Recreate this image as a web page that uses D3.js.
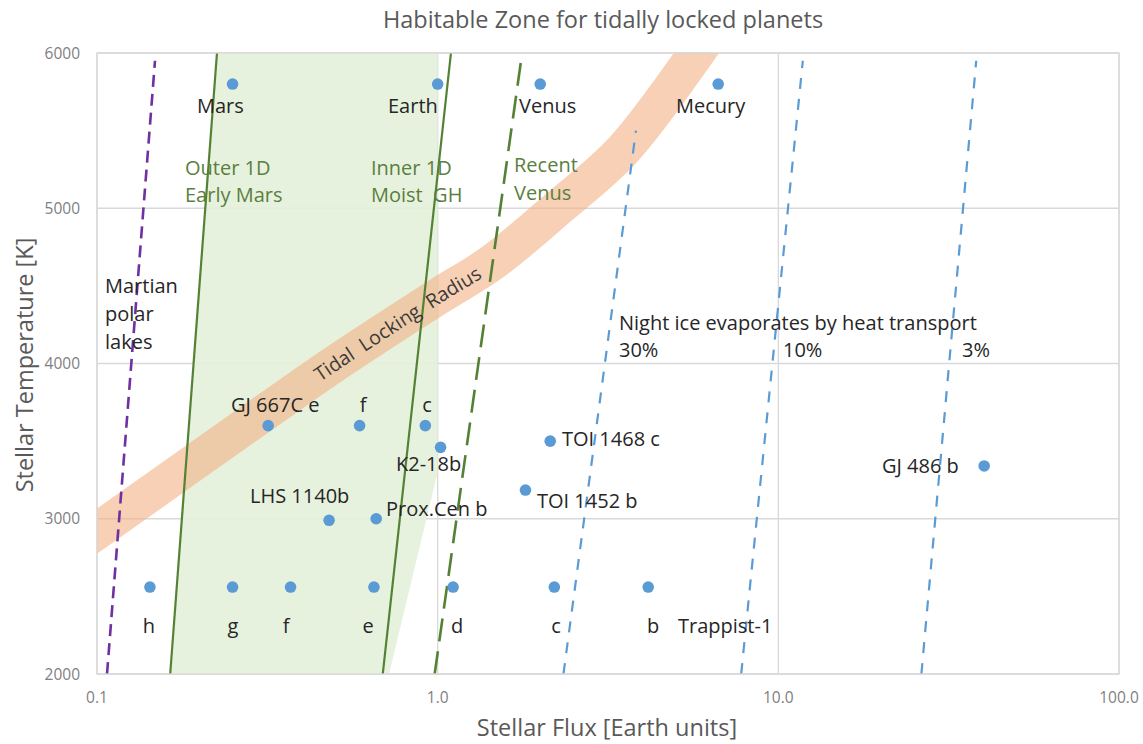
<!DOCTYPE html>
<html><head><meta charset="utf-8">
<script src="https://cdn.jsdelivr.net/npm/d3@7"></script>
<style>
body{margin:0;background:#fff;}
svg{display:block;font-family:"Open Sans",Lato,sans-serif;}
</style></head>
<body><svg id="c" width="1143" height="744"></svg>
<script>
// ---------- data ----------
const xTicks = [0.1, 1, 10, 100];
const xTickLabels = ["0.1", "1.0", "10.0", "100.0"];
const yTicks = [2000, 3000, 4000, 5000, 6000];

const solarPlanets = [
  {name:"Mars", flux:0.25, temp:5800},
  {name:"Earth", flux:1.0, temp:5800},
  {name:"Venus", flux:2.0, temp:5800},
  {name:"Mecury", flux:6.66, temp:5800}
];
const exoPlanets = [
  {name:"GJ 667C e", flux:0.318, temp:3600},
  {name:"GJ 667C f", flux:0.59, temp:3600},
  {name:"GJ 667C c", flux:0.92, temp:3600},
  {name:"K2-18b", flux:1.02, temp:3460},
  {name:"TOI 1468 c", flux:2.14, temp:3500},
  {name:"TOI 1452 b", flux:1.81, temp:3185},
  {name:"GJ 486 b", flux:40.2, temp:3340},
  {name:"LHS 1140b", flux:0.48, temp:2990},
  {name:"Prox.Cen b", flux:0.66, temp:3000}
];
const trappist = [
  {name:"h", flux:0.143, temp:2560},
  {name:"g", flux:0.25, temp:2560},
  {name:"f", flux:0.37, temp:2560},
  {name:"e", flux:0.65, temp:2560},
  {name:"d", flux:1.11, temp:2560},
  {name:"c", flux:2.20, temp:2560},
  {name:"b", flux:4.15, temp:2560}
];

const martianLine = [[0.107,2000],[0.148,5950]];
const outerLine   = [[0.164,2000],[0.225,6000]];
const innerLine   = [[0.69,2000],[1.094,6000]];
const venusLine   = [[0.98,2000],[1.77,6000]];
const ice30Line   = [[2.34,2000],[3.82,5500]];
const ice10Line   = [[7.78,2000],[11.8,5950]];
const ice3Line    = [[26.3,2000],[38.1,5950]];
const hzShade     = [[0.164,2000],[0.225,6000],[1.0,6000],[1.0,3300],[0.72,2000]];
const tidalBand   = [[0.07,2680],[0.1,2920],[0.318,3700],[0.5,4000],[1.0,4430],[1.445,4650],[2.25,5000],[3.5,5375],[5.75,6000],[7.0,6280]];

// ---------- layout ----------
const svg = d3.select("#c");
const L = 97, R = 1119, T = 53, B = 674;
const x = d3.scaleLog().domain([0.1,100]).range([L,R]);
const y = d3.scaleLinear().domain([2000,6000]).range([B,T]);

const defs = svg.append("defs");
defs.append("clipPath").attr("id","clip").append("rect")
  .attr("x",L).attr("y",T).attr("width",R-L).attr("height",B-T);

// title
svg.append("text").attr("x",603).attr("y",28).attr("text-anchor","middle")
  .attr("font-size",23.5).attr("fill","#595959").text("Habitable Zone for tidally locked planets");

// gridlines
const grid = svg.append("g");
grid.selectAll("line.h").data(yTicks).join("line")
  .attr("x1",L).attr("x2",R).attr("y1",d=>y(d)).attr("y2",d=>y(d))
  .attr("stroke","#d9d9d9").attr("stroke-width",1.3);
grid.selectAll("line.v").data(xTicks).join("line")
  .attr("y1",T).attr("y2",B).attr("x1",d=>x(d)).attr("x2",d=>x(d))
  .attr("stroke","#d9d9d9").attr("stroke-width",1.3);

const plot = svg.append("g").attr("clip-path","url(#clip)");
const line = d3.line().x(d=>x(d[0])).y(d=>y(d[1]));

// HZ shade
plot.append("path").attr("d", line(hzShade)+"Z").attr("fill","#e4f1da").attr("opacity",0.9);

// tidal band
const bandLine = d3.line().x(d=>x(d[0])).y(d=>y(d[1])).curve(d3.curveCatmullRom.alpha(0.5));
const bandPath = plot.append("path").attr("id","band").attr("d", bandLine(tidalBand))
  .attr("fill","none").attr("stroke","#f4b183").attr("stroke-opacity",0.6).attr("stroke-width",37);

// lines
function drawLine(data, color, width, dash){
  plot.append("path").attr("d", line(data)).attr("fill","none")
    .attr("stroke",color).attr("stroke-width",width).attr("stroke-dasharray",dash||null);
}
drawLine(martianLine, "#7030a0", 2.6, "12,7");
drawLine(outerLine, "#548235", 2.2);
drawLine(innerLine, "#548235", 2.2);
drawLine(venusLine, "#548235", 2.6, "23,10");
drawLine(ice30Line, "#5b9bd5", 2.2, "11,10");
drawLine(ice10Line, "#5b9bd5", 2.2, "11,10");
drawLine(ice3Line, "#5b9bd5", 2.2, "11,10");

// band text
const bp = bandPath.node();
const tl = bp.getTotalLength();
let best = 0, bd = 1e9;
for(let s=0;s<=tl;s+=1){ const p = bp.getPointAtLength(s); const dd=Math.abs(p.x-397); if(dd<bd){bd=dd;best=s;} }
svg.append("text").attr("font-size",19.5).attr("fill","#3a3a3a").attr("dy",7)
  .append("textPath").attr("href","#band").attr("startOffset",best).attr("text-anchor","middle")
  .attr("xml:space","preserve").text("Tidal  Locking  Radius");

// plot border
svg.append("rect").attr("x",L).attr("y",T).attr("width",R-L).attr("height",B-T)
  .attr("fill","none").attr("stroke","#d9d9d9").attr("stroke-width",1.3);

// points
const allPts = solarPlanets.concat(exoPlanets, trappist);
svg.append("g").selectAll("circle").data(allPts).join("circle")
  .attr("cx",d=>x(d.flux)).attr("cy",d=>y(d.temp)).attr("r",5.8).attr("fill","#5b9bd5");

// axes tick labels
svg.append("g").selectAll("text").data(yTicks).join("text")
  .attr("x",80).attr("y",d=>y(d)+5.5).attr("text-anchor","end")
  .attr("font-size",15.5).attr("fill","#7f7f7f").text(d=>d);
svg.append("g").selectAll("text").data(xTicks).join("text")
  .attr("x",d=>x(d)).attr("y",703).attr("text-anchor","middle")
  .attr("font-size",15.5).attr("fill","#7f7f7f").text((d,i)=>xTickLabels[i]);

// axis titles
svg.append("text").attr("x",607).attr("y",736).attr("text-anchor","middle")
  .attr("font-size",23.5).attr("fill","#595959").text("Stellar Flux [Earth units]");
svg.append("text").attr("transform","translate(33,365) rotate(-90)").attr("text-anchor","middle")
  .attr("font-size",23.5).attr("fill","#595959").text("Stellar Temperature [K]");

// labels  [text, x, y, color, anchor]
const DK = "#262626", GR = "#5a7f3e";
const labels = [
  ["Mars",197,113,DK],["Earth",388,113,DK],["Venus",519,113,DK],["Mecury",676,113,DK],
  ["Outer 1D",185,175,GR],["Early Mars",185,202,GR],
  ["Inner 1D",371,175,GR],["Moist  GH",371,202,GR],
  ["Recent",514,172,GR],["Venus",514,200,GR],
  ["Martian",105,293,DK],["polar",105,321,DK],["lakes",105,349,DK],
  ["Night ice evaporates by heat transport",619,330,DK],
  ["30%",619,357,DK],["10%",783,357,DK],["3%",962,357,DK],
  ["GJ 667C e",231,412,DK],["f",363,412,DK,"middle"],["c",427,412,DK,"middle"],
  ["K2-18b",396,471,DK],["TOI 1468 c",562,446,DK],["TOI 1452 b",537,508,DK],
  ["GJ 486 b",882,473,DK],["LHS 1140b",250,503,DK],["Prox.Cen b",386,516,DK],
  ["h",149,633,DK,"middle"],["g",233,633,DK,"middle"],["f",286,633,DK,"middle"],["e",368,633,DK,"middle"],
  ["d",457,633,DK,"middle"],["c",556,633,DK,"middle"],["b",653,633,DK,"middle"],["Trappist-1",678,633,DK]
];
svg.append("g").selectAll("text").data(labels).join("text")
  .attr("x",d=>d[1]).attr("y",d=>d[2]).attr("fill",d=>d[3]).attr("font-size",20)
  .attr("text-anchor",d=>d[4]||"start")
  .attr("xml:space","preserve").text(d=>d[0]);
</script></body></html>
